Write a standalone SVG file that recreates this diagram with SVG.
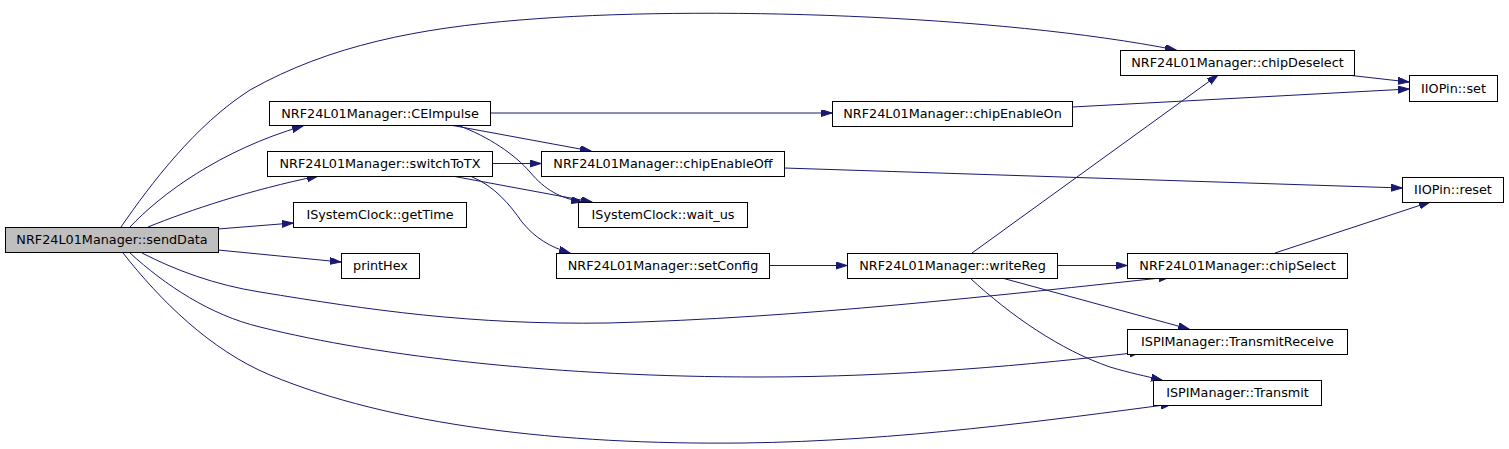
<svg xmlns="http://www.w3.org/2000/svg" width="1509" height="449" viewBox="0 0 1509 449">
<style>
.n rect{fill:#ffffff;stroke:#000000;stroke-width:1}
.n text{font-family:"DejaVu Sans","Noto Sans",sans-serif;font-size:12.8px;text-anchor:middle;fill:#000000}
#edges path{fill:none;stroke:#191970;stroke-width:1;marker-end:url(#a)}
</style>
<defs>
<marker id="a" markerWidth="12" markerHeight="8" refX="11" refY="3.5" orient="auto" markerUnits="userSpaceOnUse">
<path d="M0,0 L11,3.5 L0,7 z" fill="#191970" stroke="#191970" stroke-width="1"/>
</marker>
</defs>
<rect width="1509" height="449" fill="#ffffff"/>
<g id="edges">
<path d="M121,227 C150,185 195,125 250,90 C330,45 420,28 520,20 C700,5 1000,15 1176,50"/>
<path d="M130,227 C160,195 220,150 303,126"/>
<path d="M148,227 C190,210 250,190 318,176"/>
<path d="M218,229 L293,223"/>
<path d="M218,250 L341,262"/>
<path d="M142,253 C175,270 215,285 260,292 C370,310 470,325 608,323 C800,318 1000,295 1170,277"/>
<path d="M130,253 C165,285 210,315 260,327 C380,357 560,377 760,377 C900,377 1030,365 1141,352"/>
<path d="M123,253 C160,300 210,350 270,375 C390,425 560,445 743,443 C900,441 1050,420 1172,404"/>
<path d="M490,113 L832,113"/>
<path d="M450,125 L591,151"/>
<path d="M457,125 C490,137 515,155 530,172 C545,190 560,198 582,202"/>
<path d="M492,163.5 L541,163.5"/>
<path d="M452,176 L592,202"/>
<path d="M470,176 C495,186 510,205 522,222 C535,238 550,247 570,253"/>
<path d="M1072,107 L1409,89"/>
<path d="M784,168 L1402,188"/>
<path d="M1347,75 L1409,82"/>
<path d="M769,265.5 L847,265.5"/>
<path d="M972,253 L1218,75"/>
<path d="M1057,265.5 L1127,265.5"/>
<path d="M1002,278 L1189,329"/>
<path d="M970,278 C1010,315 1060,350 1110,367 C1130,373 1145,376 1162,380"/>
<path d="M1275,253 L1430,202"/>
</g>
<g id="sendData" class="n"><rect x="5.5" y="227.5" width="213" height="25" style="fill:#bfbfbf"/><text x="112" y="244">NRF24L01Manager::sendData</text></g>
<g id="CEImpulse" class="n"><rect x="269.5" y="101.5" width="221" height="24"/><text x="380" y="117.5">NRF24L01Manager::CEImpulse</text></g>
<g id="switchToTX" class="n"><rect x="267.5" y="151.5" width="225" height="25"/><text x="380" y="168">NRF24L01Manager::switchToTX</text></g>
<g id="getTime" class="n"><rect x="293.5" y="202.5" width="173" height="25"/><text x="380" y="219">ISystemClock::getTime</text></g>
<g id="printHex" class="n"><rect x="341.5" y="253.5" width="78" height="25"/><text x="380.5" y="270">printHex</text></g>
<g id="chipEnableOff" class="n"><rect x="541.5" y="151.5" width="243" height="25"/><text x="663" y="168">NRF24L01Manager::chipEnableOff</text></g>
<g id="wait_us" class="n"><rect x="578.5" y="202.5" width="169" height="25"/><text x="663" y="219">ISystemClock::wait_us</text></g>
<g id="setConfig" class="n"><rect x="556.5" y="253.5" width="213" height="25"/><text x="663" y="270">NRF24L01Manager::setConfig</text></g>
<g id="chipEnableOn" class="n"><rect x="832.5" y="101.5" width="240" height="25"/><text x="952.5" y="118">NRF24L01Manager::chipEnableOn</text></g>
<g id="writeReg" class="n"><rect x="847.5" y="253.5" width="210" height="25"/><text x="952.5" y="270">NRF24L01Manager::writeReg</text></g>
<g id="chipDeselect" class="n"><rect x="1120.5" y="50.5" width="234" height="25"/><text x="1237.5" y="67">NRF24L01Manager::chipDeselect</text></g>
<g id="chipSelect" class="n"><rect x="1127.5" y="253.5" width="220" height="25"/><text x="1237.5" y="270">NRF24L01Manager::chipSelect</text></g>
<g id="TransmitReceive" class="n"><rect x="1127.5" y="329.5" width="220" height="25"/><text x="1237.5" y="346">ISPIManager::TransmitReceive</text></g>
<g id="Transmit" class="n"><rect x="1153.5" y="380.5" width="168" height="25"/><text x="1237.5" y="397">ISPIManager::Transmit</text></g>
<g id="IIOPin_set" class="n"><rect x="1409.5" y="75.5" width="88" height="26"/><text x="1453.5" y="92.5">IIOPin::set</text></g>
<g id="IIOPin_reset" class="n"><rect x="1402.5" y="177.5" width="101" height="25"/><text x="1453" y="194">IIOPin::reset</text></g>
</svg>
